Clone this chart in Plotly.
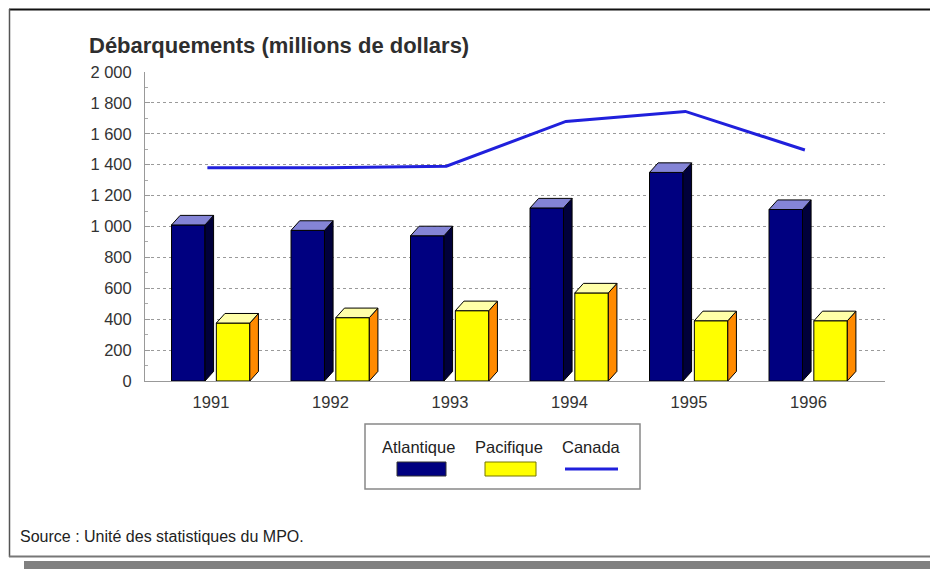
import plotly.graph_objects as go

# ---- data ----
years = ["1991", "1992", "1993", "1994", "1995", "1996"]
atlantique = [1010, 975, 940, 1120, 1350, 1110]
pacifique = [375, 410, 455, 570, 390, 390]
canada = [1380, 1380, 1390, 1680, 1745, 1495]
y_ticks = [0, 200, 400, 600, 800, 1000, 1200, 1400, 1600, 1800, 2000]
y_tick_text = ["0", "200", "400", "600", "800", "1 000", "1 200", "1 400", "1 600", "1 800", "2 000"]

# ---- layout constants ----
W, H = 930, 569
L, R, T, B = 145, 45, 72, 188
PW, PH = W - L - R, H - T - B
X0 = -0.552
XR = (X0, X0 + PW / 119.5)

BAR_W = 0.28
DX = 0.072      # depth (x units)
DY = 62         # depth (y units)

A_FRONT, A_SIDE, A_TOP = "#000080", "#00003a", "#8484d6"
P_FRONT, P_SIDE, P_TOP = "#ffff00", "#ff8a00", "#ffffa8"
LINE_C = "#2020dc"
FONT = "Liberation Sans, Arial, sans-serif"


def px(x):
    return (x - L) / PW


def py(y):
    return (H - B - y) / PH


fig = go.Figure()
xs = list(range(len(years)))


def add_series(vals, offset, front, side, top):
    fig.add_trace(go.Bar(
        x=xs, y=vals, width=BAR_W, offset=offset,
        marker=dict(color=front, line=dict(color="#000000", width=1)),
        hoverinfo="skip", showlegend=False))
    for i, v in zip(xs, vals):
        xl = i + offset
        xr = xl + BAR_W
        # side face
        fig.add_trace(go.Scatter(
            x=[xr, xr + DX, xr + DX, xr, xr],
            y=[0, DY, v + DY, v, 0],
            fill="toself", fillcolor=side, mode="lines",
            line=dict(color="#000000", width=1),
            hoverinfo="skip", showlegend=False))
        # top face
        fig.add_trace(go.Scatter(
            x=[xl, xr, xr + DX, xl + DX, xl],
            y=[v, v, v + DY, v + DY, v],
            fill="toself", fillcolor=top, mode="lines",
            line=dict(color="#000000", width=1),
            hoverinfo="skip", showlegend=False))


add_series(atlantique, -0.33, A_FRONT, A_SIDE, A_TOP)
add_series(pacifique, 0.045, P_FRONT, P_SIDE, P_TOP)

fig.add_trace(go.Scatter(
    x=[i - 0.03 for i in xs], y=canada, mode="lines",
    line=dict(color=LINE_C, width=3), hoverinfo="skip", showlegend=False))

fig.update_layout(
    width=W, height=H,
    margin=dict(l=L, r=R, t=T, b=B),
    paper_bgcolor="white", plot_bgcolor="white",
    showlegend=False,
    font=dict(family=FONT, color="#333333", size=16),
    xaxis=dict(
        range=list(XR), tickvals=xs, ticktext=years,
        showgrid=False, zeroline=False,
        showline=True, linecolor="#999999", linewidth=1,
        ticks="", ticklabelstandoff=6,
        tickfont=dict(size=16.5, color="#333333"),
        fixedrange=True,
    ),
    yaxis=dict(
        range=[0, 2000], tickvals=y_ticks, ticktext=y_tick_text,
        showgrid=True, gridcolor="#9a9a9a", griddash="dot", gridwidth=1,
        zeroline=False, showline=True, linecolor="#999999", linewidth=1,
        ticks="inside", ticklen=5, tickcolor="#999999",
        minor=dict(dtick=100, ticks="inside", ticklen=3, tickcolor="#aaaaaa", showgrid=False),
        ticklabelstandoff=9,
        tickfont=dict(size=16.5, color="#333333"),
        fixedrange=True,
    ),
)

# title
fig.add_annotation(
    text="Débarquements (millions de dollars)", xref="paper", yref="paper",
    x=px(87), y=py(45), xanchor="left", yanchor="middle", showarrow=False,
    font=dict(size=22, color="#2e2e2e", family=FONT, weight="bold"))

# source
fig.add_annotation(
    text="Source : Unité des statistiques du MPO.", xref="paper", yref="paper",
    x=px(18), y=py(536), xanchor="left", yanchor="middle", showarrow=False,
    font=dict(size=16, color="#222222"))

# custom legend
shapes = []
shapes.append(dict(type="rect", xref="paper", yref="paper",
                   x0=px(365), x1=px(640), y0=py(424), y1=py(489),
                   line=dict(color="#888888", width=1.5), fillcolor="white"))
shapes.append(dict(type="rect", xref="paper", yref="paper",
                   x0=px(397), x1=px(446), y0=py(462), y1=py(476),
                   line=dict(color="#333333", width=1), fillcolor=A_FRONT))
shapes.append(dict(type="rect", xref="paper", yref="paper",
                   x0=px(485), x1=px(536), y0=py(462), y1=py(476),
                   line=dict(color="#777700", width=1), fillcolor=P_FRONT))
shapes.append(dict(type="line", xref="paper", yref="paper",
                   x0=px(565), x1=px(618), y0=py(469), y1=py(469),
                   line=dict(color=LINE_C, width=3)))
for name, cx in [("Atlantique", 418), ("Pacifique", 509), ("Canada", 591)]:
    fig.add_annotation(text=name, xref="paper", yref="paper",
                       x=px(cx), y=py(447), xanchor="center", yanchor="middle",
                       showarrow=False, font=dict(size=16.5, color="#222222"))

# outer frame
shapes.append(dict(type="line", xref="paper", yref="paper",
                   x0=px(9), x1=px(930), y0=py(9.5), y1=py(9.5),
                   line=dict(color="#111111", width=2)))
shapes.append(dict(type="line", xref="paper", yref="paper",
                   x0=px(9.5), x1=px(9.5), y0=py(9), y1=py(557),
                   line=dict(color="#555555", width=1.5)))
shapes.append(dict(type="line", xref="paper", yref="paper",
                   x0=px(9), x1=px(930), y0=py(556.5), y1=py(556.5),
                   line=dict(color="#777777", width=2)))
shapes.append(dict(type="rect", xref="paper", yref="paper",
                   x0=px(24), x1=px(931), y0=py(561), y1=py(570),
                   line=dict(width=0), fillcolor="#808080"))

fig.update_layout(shapes=shapes)

fig.write_html("out.html")
